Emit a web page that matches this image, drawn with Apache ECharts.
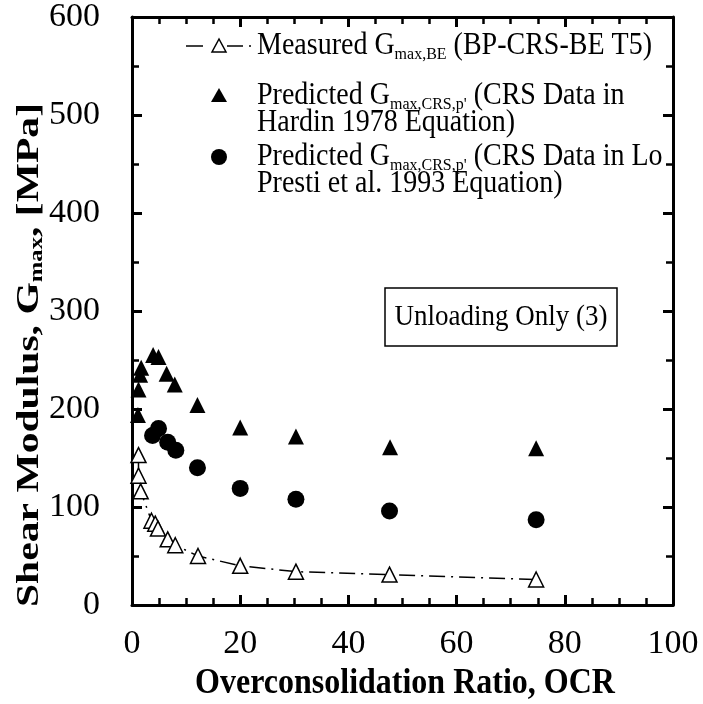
<!DOCTYPE html>
<html>
<head>
<meta charset="utf-8">
<script src="https://cdn.jsdelivr.net/npm/echarts@6/dist/echarts.min.js"></script>
<style>
  html, body { margin: 0; padding: 0; background: #fff; }
  #chart { width: 703px; height: 704px; }
</style>
</head>
<body>
<div id="chart"></div>
<script>
// Measured Gmax from bender elements (BP-CRS-BE T5)
const measuredOCR = [1.2, 1.2, 1.6, 3.6, 4.3, 4.8, 6.6, 8.0, 12.2, 20, 30.3, 47.6, 74.7]
const measuredG = [153, 132, 116, 86, 83, 78, 67, 61, 50, 40, 34, 31, 26]

// Predicted, Hardin 1978
const hardinOCR = [1.1, 1.2, 1.5, 1.7, 3.9, 4.9, 6.4, 7.9, 12.1, 20, 30.3, 47.7, 74.7]
const hardinG = [194, 220, 235, 242, 255, 253, 236, 225, 204, 181, 172, 161, 160]

// Predicted, Lo Presti et al. 1993
const prestiOCR = [3.8, 4.9, 6.6, 8.1, 12.1, 20, 30.3, 47.6, 74.7]
const prestiG = [173, 180, 166, 158, 140, 119, 108, 96, 87]

const xTicks = [0, 20, 40, 60, 80, 100]
const yTicks = [0, 100, 200, 300, 400, 500, 600]

const FONT = '"Liberation Serif", "Times New Roman", serif'

const zip = (xs, ys) => xs.map((x, i) => [x, ys[i]])

const axisBase = {
  axisLine: { show: true, onZero: false, lineStyle: { color: '#000', width: 3 } },
  axisTick: { show: true, inside: true, length: 10, lineStyle: { color: '#000', width: 3 } },
  minorTick: { show: true, length: 7, lineStyle: { color: '#000', width: 2.5 } },
  splitLine: { show: false },
}

// rich styles: 't' normal text, 's' subscript pushed below the baseline
const legendRich = {
  t: { fontFamily: FONT, fontSize: 28, lineHeight: 33, fill: '#000' },
  s: { fontFamily: FONT, fontSize: 16, lineHeight: 16, fill: '#000', verticalAlign: 'top', padding: [16, 0, 0, 0] },
}

const legendText = (x, y, text) => ({
  type: 'text', x, y, scaleY: 1.1,
  style: { text, verticalAlign: 'middle', rich: legendRich },
})

const chart = echarts.init(document.getElementById('chart'), null, { renderer: 'canvas' })

const option = {
  backgroundColor: '#fff',
  animation: false,
  grid: { left: 132, right: 30, top: 17, bottom: 99 },
  xAxis: [
    {
      ...axisBase,
      type: 'value', min: 0, max: 100, interval: 20,
      minorTick: { ...axisBase.minorTick, splitNumber: 4 },
      axisLabel: {
        color: '#000', fontFamily: FONT, fontSize: 34, margin: 22,
        formatter: (v) => (xTicks.includes(v) ? String(v) : ''),
      },
    },
    {
      ...axisBase,
      type: 'value', position: 'top', min: 0, max: 100, interval: 20,
      minorTick: { ...axisBase.minorTick, splitNumber: 4 },
      axisLabel: { show: false },
    },
  ],
  yAxis: [
    {
      ...axisBase,
      type: 'value', min: 0, max: 600, interval: 100,
      minorTick: { ...axisBase.minorTick, splitNumber: 2 },
      axisLabel: {
        color: '#000', fontFamily: FONT, fontSize: 34, margin: 32,
        formatter: (v) => (yTicks.includes(v) ? String(v) : ''),
      },
    },
    {
      ...axisBase,
      type: 'value', position: 'right', min: 0, max: 600, interval: 100,
      minorTick: { ...axisBase.minorTick, splitNumber: 2 },
      axisLabel: { show: false },
    },
  ],
  series: [
    {
      name: 'Measured',
      type: 'line',
      data: zip(measuredOCR, measuredG),
      symbol: 'triangle',
      symbolSize: 15,
      lineStyle: { color: '#000', width: 1.5, type: [16, 6, 2, 6] },
      itemStyle: { color: '#fff', borderColor: '#000', borderWidth: 1.5, opacity: 1 },
      z: 3,
    },
    {
      name: 'Hardin',
      type: 'scatter',
      data: zip(hardinOCR, hardinG),
      symbol: 'triangle',
      symbolSize: 16,
      itemStyle: { color: '#000', opacity: 1 },
    },
    {
      name: 'Presti',
      type: 'scatter',
      data: zip(prestiOCR, prestiG),
      symbol: 'circle',
      symbolSize: 17,
      itemStyle: { color: '#000', opacity: 1 },
    },
  ],
  graphic: [
    // y-axis title (rotated, stretched along its length)
    {
      type: 'text',
      x: 30, y: 355,
      rotation: Math.PI / 2,
      scaleX: 1.3,
      style: {
        text: '{b|Shear Modulus, G}{s|max}{b|, [MPa]}',
        align: 'center', verticalAlign: 'middle',
        rich: {
          b: { fontFamily: FONT, fontSize: 32, lineHeight: 38, fontWeight: 'bold', fill: '#000' },
          s: { fontFamily: FONT, fontSize: 19, lineHeight: 19, fontWeight: 'bold', fill: '#000', verticalAlign: 'top', padding: [17, 0, 0, 0] },
        },
      },
    },
    // x-axis title
    {
      type: 'text',
      x: 405, y: 683,
      scaleY: 1.15,
      style: {
        text: 'Overconsolidation Ratio, OCR',
        fontFamily: FONT, fontSize: 32, fontWeight: 'bold', fill: '#000',
        align: 'center', verticalAlign: 'middle',
      },
    },
    // legend: measured (dash-dot line with open triangle)
    { type: 'line', shape: { x1: 186, y1: 46, x2: 203, y2: 46 }, style: { stroke: '#000', lineWidth: 1.5 } },
    { type: 'line', shape: { x1: 227, y1: 46, x2: 243, y2: 46 }, style: { stroke: '#000', lineWidth: 1.5 } },
    { type: 'line', shape: { x1: 249, y1: 46, x2: 251, y2: 46 }, style: { stroke: '#000', lineWidth: 1.5 } },
    { type: 'polygon', shape: { points: [[219, 39], [212, 52], [226, 52]] }, style: { fill: '#fff', stroke: '#000', lineWidth: 1.5 } },
    legendText(257, 46, '{t|Measured G}{s|max,BE}{t| (BP-CRS-BE T5)}'),
    // legend: Hardin
    { type: 'polygon', shape: { points: [[219, 88], [211, 102], [227, 102]] }, style: { fill: '#000' } },
    legendText(257, 96, '{t|Predicted G}{s|max,CRS,p\'}{t| (CRS Data in}'),
    legendText(257, 123, '{t|Hardin 1978 Equation)}'),
    // legend: Lo Presti
    { type: 'circle', shape: { cx: 219, cy: 157, r: 8 }, style: { fill: '#000' } },
    legendText(257, 157, '{t|Predicted G}{s|max,CRS,p\'}{t| (CRS Data in Lo}'),
    legendText(257, 184, '{t|Presti et al. 1993 Equation)}'),
    // annotation box
    {
      type: 'rect',
      shape: { x: 385, y: 288, width: 232, height: 58 },
      style: { fill: '#fff', stroke: '#000', lineWidth: 1.5 },
    },
    {
      type: 'text', x: 501, y: 317,
      scaleY: 1.1,
      style: {
        text: 'Unloading Only (3)',
        fontFamily: FONT, fontSize: 27, fill: '#000',
        align: 'center', verticalAlign: 'middle',
      },
    },
  ],
}

chart.setOption(option)
</script>
</body>
</html>
